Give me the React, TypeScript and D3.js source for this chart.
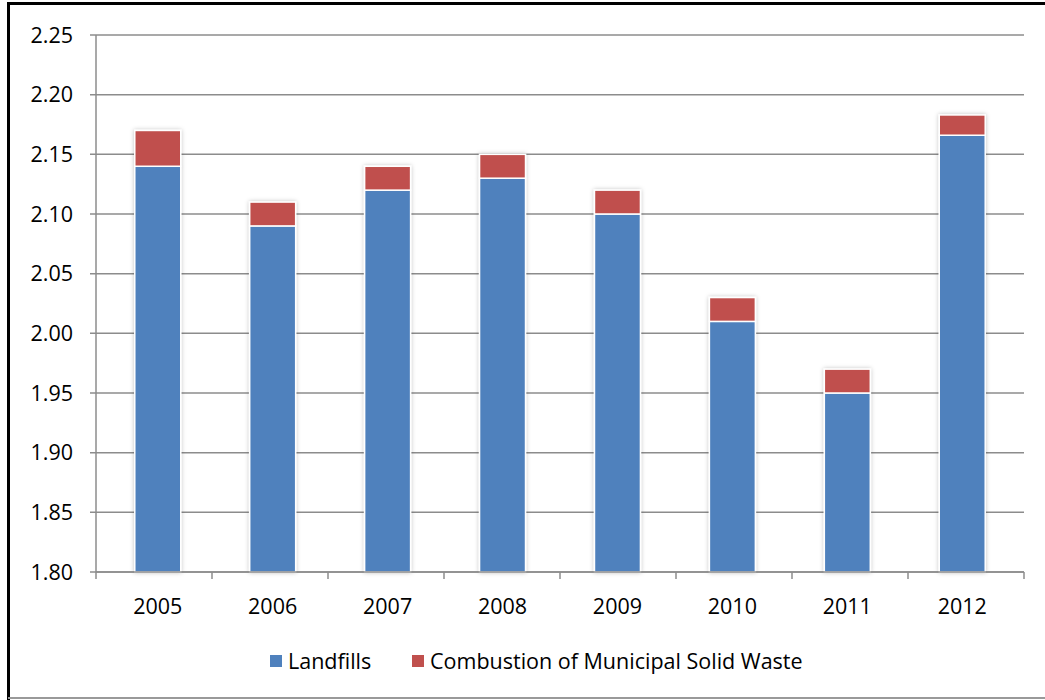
import React from 'react'
import {scaleBand, scaleLinear, range} from 'd3'

const years = ['2005', '2006', '2007', '2008', '2009', '2010', '2011', '2012']
const landfills = [2.14, 2.09, 2.12, 2.13, 2.10, 2.01, 1.95, 2.166]
const combustion = [0.03, 0.02, 0.02, 0.02, 0.02, 0.02, 0.02, 0.017]
const yTicks = [1.80, 1.85, 1.90, 1.95, 2.00, 2.05, 2.10, 2.15, 2.20, 2.25]
const seriesNames = ['Landfills', 'Combustion of Municipal Solid Waste']
const colors = ['#4F81BD', '#C0504D']

const W = 1045, H = 700
const margin = {top: 35, right: 21, bottom: 128, left: 96}
const font = '"Open Sans", "Noto Sans", sans-serif'
const fs = 21.5

export default function App() {
    const innerW = W - margin.left - margin.right
    const innerH = H - margin.top - margin.bottom

    const x = scaleBand<string>().domain(years).range([2, innerW - 2]).paddingInner(0.6).paddingOuter(0.32)
    const y = scaleLinear().domain([1.80, 2.25]).range([innerH, 0])
    const step = innerW / years.length

    return (
        <div style={{position: 'absolute', left: 0, top: 0}}>
            <svg width={W} height={H} style={{display: 'block', background: '#fff'}} fontFamily={font}>
                <defs>
                    <filter id="shadow" x="-20%" y="-5%" width="140%" height="110%">
                        <feDropShadow dx="0" dy="0" stdDeviation="2" floodColor="#000" floodOpacity="0.25" />
                    </filter>
                </defs>
                {/* outer frame */}
                <line x1={8} x2={W} y1={3.5} y2={3.5} stroke="#000" strokeWidth={3} />
                <line x1={8.5} x2={8.5} y1={2} y2={H} stroke="#000" strokeWidth={3} />
                <line x1={8} x2={W} y1={698} y2={698} stroke="#999" strokeWidth={2} />

                <g transform={`translate(${margin.left},${margin.top})`}>
                    {/* gridlines + y ticks */}
                    {yTicks.map(t => (
                        <g key={t} transform={`translate(0,${y(t)})`}>
                            <line x1={-6} x2={innerW} stroke="#8c8c8c" strokeWidth={1.5} />
                            <text x={-23} dy="0.35em" textAnchor="end" fontSize={fs} fill="#000">{t.toFixed(2)}</text>
                        </g>
                    ))}
                    <line x1={0} x2={0} y1={0} y2={innerH} stroke="#8c8c8c" strokeWidth={1.5} />

                    {/* bars */}
                    {years.map((yr, i) => {
                        const bx = x(yr) as number
                        const top1 = y(landfills[i])
                        const top2 = y(landfills[i] + combustion[i])
                        return (
                            <g key={yr} filter="url(#shadow)">
                                <rect x={bx} y={top1} width={x.bandwidth()} height={innerH - top1}
                                      fill={colors[0]} stroke="#fff" strokeWidth={1.5} />
                                <rect x={bx} y={top2} width={x.bandwidth()} height={top1 - top2}
                                      fill={colors[1]} stroke="#fff" strokeWidth={1.5} />
                            </g>
                        )
                    })}

                    {/* x axis */}
                    <line x1={0} x2={innerW} y1={innerH} y2={innerH} stroke="#8c8c8c" strokeWidth={1.5} />
                    {range(years.length + 1).map(i => (
                        <line key={i} x1={i * step} x2={i * step} y1={innerH} y2={innerH + 7} stroke="#8c8c8c" strokeWidth={1.5} />
                    ))}
                    {years.map(yr => (
                        <text key={yr} x={(x(yr) as number) + x.bandwidth() / 2} y={innerH + 42}
                              textAnchor="middle" fontSize={fs} fill="#000">{yr}</text>
                    ))}
                </g>

                {/* legend */}
                <g transform="translate(270,661)">
                    <rect x={0} y={-6} width={12} height={12} fill={colors[0]} />
                    <text x={18} dy="0.35em" fontSize={fs} fill="#000">{seriesNames[0]}</text>
                    <rect x={142} y={-6} width={12} height={12} fill={colors[1]} />
                    <text x={160} dy="0.35em" fontSize={fs} fill="#000">{seriesNames[1]}</text>
                </g>
            </svg>
        </div>
    )
}
